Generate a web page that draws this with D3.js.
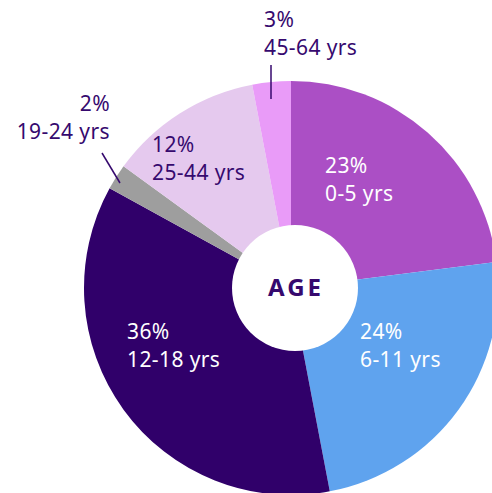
<!DOCTYPE html>
<html>
<head>
  <title>Age</title>
  <script src="https://d3js.org/d3.v7.min.js"></script>
  <style>
    body { margin: 0; background: #fff; }
    text { font-family: "Noto Sans", sans-serif; }
  </style>
</head>
<body>
<div id="chart"></div>
<script>
  // data
  var groups = ["0-5 yrs", "6-11 yrs", "12-18 yrs", "19-24 yrs", "25-44 yrs", "45-64 yrs"];
  var shares = [23, 24, 36, 2, 12, 3];
  var colors = ["#ab4fc5", "#5fa3ee", "#30006a", "#9e9e9e", "#e5c9ee", "#e99bf8"];

  // where each label sits, and whether it is outside with a leader line
  var labelPos = {
    "0-5 yrs":   {x: 325, y: 173, anchor: "start", fill: "#fff"},
    "6-11 yrs":  {x: 360, y: 339, anchor: "start", fill: "#fff"},
    "12-18 yrs": {x: 127, y: 339, anchor: "start", fill: "#fff"},
    "19-24 yrs": {x: 110, y: 111, anchor: "end", fill: "#36096e", line: [[102, 153], [120, 183]]},
    "25-44 yrs": {x: 152, y: 152, anchor: "start", fill: "#36096e"},
    "45-64 yrs": {x: 264, y: 27, anchor: "start", fill: "#36096e", line: [[271, 65], [271, 99]]}
  };

  var width = 492, height = 493;
  var cx = 291, cy = 288, radius = 207;

  var data = groups.map(function(g, i) { return {group: g, share: shares[i]}; });

  var svg = d3.select("#chart")
    .append("svg")
    .attr("width", width)
    .attr("height", height);

  var color = d3.scaleOrdinal().domain(groups).range(colors);

  var pie = d3.pie()
    .sort(null)
    .value(function(d) { return d.share; });

  var arc = d3.arc().innerRadius(0).outerRadius(radius);

  var g = svg.append("g")
    .attr("transform", "translate(" + cx + "," + cy + ")");

  g.selectAll("path")
    .data(pie(data))
    .enter()
    .append("path")
    .attr("d", arc)
    .attr("fill", function(d) { return color(d.data.group); });

  // white hole in the middle
  svg.append("circle")
    .attr("cx", cx + 4)
    .attr("cy", cy)
    .attr("r", 63)
    .attr("fill", "#fff");

  svg.append("text")
    .attr("x", cx + 5)
    .attr("y", cy + 8)
    .attr("text-anchor", "middle")
    .style("font-size", "24px")
    .style("font-weight", "bold")
    .style("letter-spacing", "3px")
    .attr("fill", "#36096e")
    .text("AGE");

  // labels
  data.forEach(function(d) {
    var p = labelPos[d.group];
    if (p.line) {
      svg.append("line")
        .attr("x1", p.line[0][0]).attr("y1", p.line[0][1])
        .attr("x2", p.line[1][0]).attr("y2", p.line[1][1])
        .attr("stroke", "#36096e")
        .attr("stroke-width", 1.5);
    }
    var t = svg.append("text")
      .attr("text-anchor", p.anchor)
      .attr("fill", p.fill)
      .style("font-size", "21px")
      .style("letter-spacing", "0.4px");
    t.append("tspan").attr("x", p.x).attr("y", p.y).text(d.share + "%");
    t.append("tspan").attr("x", p.x).attr("y", p.y + 28).text(d.group);
  });
</script>
</body>
</html>
